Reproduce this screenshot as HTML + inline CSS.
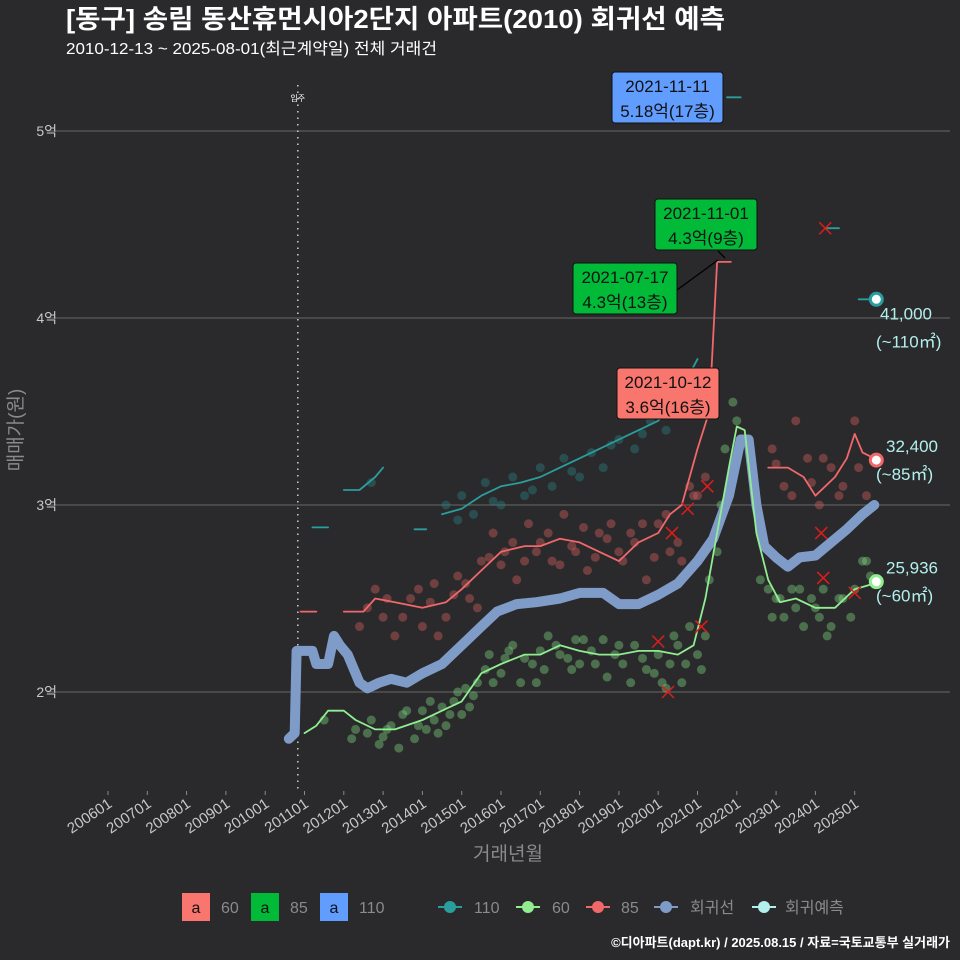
<!DOCTYPE html>
<html><head><meta charset="utf-8">
<style>
body{margin:0;background:#2a2a2c;}
svg{display:block;font-family:"Liberation Sans","Noto Sans CJK KR",sans-serif;}
</style></head>
<body>
<svg id="chart" width="960" height="960" viewBox="0 0 960 960">
<rect width="960" height="960" fill="#2a2a2c"/>
<text x="66" y="28" font-size="26" font-weight="bold" fill="#ffffff" textLength="659" lengthAdjust="spacingAndGlyphs">[동구] 송림 동산휴먼시아2단지 아파트(2010) 회귀선 예측</text>
<text x="66" y="54" font-size="16" fill="#ffffff" textLength="371" lengthAdjust="spacingAndGlyphs">2010-12-13 ~ 2025-08-01(최근계약일) 전체 거래건</text>
<g id="grid"></g><g id="marks"></g><g id="overlay"></g>
<text x="508" y="860" font-size="19" fill="#8a8a8a" text-anchor="middle">거래년월</text>
<text transform="translate(22,430) rotate(-90)" font-size="19" fill="#8a8a8a" text-anchor="middle">매매가(원)</text>
<g font-size="16">
 <rect x="182" y="893" width="28" height="28" fill="#f8766d"/><text x="196" y="913" text-anchor="middle" fill="#111">a</text><text x="221" y="913" fill="#8a8a8a">60</text>
 <rect x="251" y="893" width="28" height="28" fill="#00ba38"/><text x="265" y="913" text-anchor="middle" fill="#111">a</text><text x="290" y="913" fill="#8a8a8a">85</text>
 <rect x="320" y="893" width="28" height="28" fill="#619cff"/><text x="334" y="913" text-anchor="middle" fill="#111">a</text><text x="359" y="913" fill="#8a8a8a">110</text>
 <g><line x1="438" y1="907" x2="462" y2="907" stroke="#2a9d9d" stroke-width="2"/><circle cx="450" cy="907" r="6" fill="#2a9d9d"/><text x="474" y="913" fill="#8a8a8a">110</text></g>
 <g><line x1="516" y1="907" x2="540" y2="907" stroke="#90ee90" stroke-width="2"/><circle cx="528" cy="907" r="6" fill="#90ee90"/><text x="552" y="913" fill="#8a8a8a">60</text></g>
 <g><line x1="586" y1="907" x2="610" y2="907" stroke="#f0686a" stroke-width="2"/><circle cx="598" cy="907" r="6" fill="#f0686a"/><text x="621" y="913" fill="#8a8a8a">85</text></g>
 <g><line x1="654" y1="907" x2="678" y2="907" stroke="#7f9cc8" stroke-width="2"/><circle cx="666" cy="907" r="6" fill="#7f9cc8"/><text x="690" y="913" fill="#8a8a8a">회귀선</text></g>
 <g><line x1="752" y1="907" x2="776" y2="907" stroke="#b2f0ee" stroke-width="2"/><circle cx="764" cy="907" r="6" fill="#b2f0ee"/><text x="785" y="913" fill="#8a8a8a">회귀예측</text></g>
</g>
<text x="950" y="947" font-size="13" font-weight="bold" fill="#ffffff" text-anchor="end">©디아파트(dapt.kr) / 2025.08.15 / 자료=국토교통부 실거래가</text>
</svg>
<script>
const yTicks=[2,3,4,5];
const yTickLabels=['2억','3억','4억','5억'];
const xTickYears=[2006,2007,2008,2009,2010,2011,2012,2013,2014,2015,2016,2017,2018,2019,2020,2021,2022,2023,2024,2025];
const xTickLabels=['200601','200701','200801','200901','201001','201101','201201','201301','201401','201501','201601','201701','201801','201901','202001','202101','202201','202301','202401','202501'];
const regT=[2010.6,2010.75,2010.8,2011.2,2011.3,2011.6,2011.75,2011.9,2012.1,2012.4,2012.6,2012.9,2013.2,2013.6,2014.0,2014.5,2015.0,2015.5,2015.9,2016.4,2016.9,2017.5,2018.0,2018.6,2019.0,2019.5,2020.0,2020.5,2021.0,2021.4,2021.8,2022.1,2022.3,2022.5,2022.7,2023.0,2023.3,2023.6,2024.0,2024.4,2024.8,2025.2,2025.5];
const regV=[1.75,1.78,2.22,2.22,2.15,2.15,2.3,2.25,2.2,2.05,2.02,2.05,2.07,2.05,2.1,2.15,2.25,2.35,2.43,2.47,2.48,2.5,2.53,2.53,2.47,2.47,2.52,2.58,2.7,2.82,3.05,3.35,3.35,3.0,2.78,2.72,2.67,2.72,2.73,2.8,2.87,2.95,3.0];
const s60T=[2011.0,2011.3,2011.6,2012.0,2012.3,2012.8,2013.3,2014.0,2014.5,2015.0,2015.5,2016.0,2016.6,2017.0,2017.5,2018.0,2018.5,2019.0,2019.5,2020.0,2020.5,2020.9,2021.2,2021.5,2021.8,2022.0,2022.2,2022.5,2022.8,2023.1,2023.5,2024.0,2024.5,2025.0,2025.5];
const s60V=[1.78,1.82,1.9,1.9,1.85,1.8,1.8,1.85,1.9,1.95,2.1,2.15,2.2,2.2,2.25,2.22,2.2,2.2,2.22,2.22,2.2,2.25,2.5,2.85,3.2,3.42,3.4,2.85,2.6,2.48,2.5,2.45,2.45,2.55,2.58];
const s85aT=[2010.9,2011.3];const s85aV=[2.43,2.43];
const s85bT=[2012.0,2012.5,2012.8,2013.3,2014.0,2014.6,2015.0,2015.5,2016.0,2016.6,2017.0,2017.5,2018.0,2018.5,2019.0,2019.5,2020.0,2020.3,2020.6,2021.0,2021.3,2021.5,2021.85];
const s85bV=[2.43,2.43,2.5,2.48,2.45,2.48,2.55,2.65,2.75,2.78,2.78,2.82,2.8,2.75,2.7,2.8,2.85,2.95,3.0,3.3,3.5,4.3,4.3];
const s85cT=[2022.8,2023.3,2023.7,2024.0,2024.5,2024.8,2025.0,2025.2,2025.5];
const s85cV=[3.2,3.2,3.15,3.05,3.15,3.25,3.38,3.28,3.25];
const s110Segs=[[[2011.2,2.88],[2011.6,2.88]],[[2012.0,3.08],[2012.4,3.08],[2012.8,3.15],[2013.0,3.2]],[[2013.8,2.87],[2014.1,2.87]],[[2014.5,2.95],[2015.0,2.98],[2015.5,3.05],[2016.0,3.1],[2016.5,3.12],[2017.0,3.15],[2017.5,3.2],[2018.0,3.25],[2018.5,3.3],[2019.0,3.35],[2019.5,3.4],[2020.0,3.45],[2020.5,3.6],[2020.8,3.7],[2021.0,3.78]],[[2021.75,5.18],[2022.1,5.18]],[[2024.3,4.48],[2024.6,4.48]],[[2025.1,4.1],[2025.5,4.1]]];
const pts60T=[2011.5,2012.2,2012.6,2012.9,2013.1,2013.4,2013.6,2013.9,2014.2,2014.4,2014.7,2014.9,2015.2,2015.4,2015.7,2016.0,2016.3,2016.6,2016.9,2017.2,2017.5,2017.8,2018.1,2018.4,2018.7,2019.0,2019.3,2019.6,2019.9,2020.2,2020.4,2020.7,2021.0,2021.3,2021.6,2021.9,2022.0,2022.6,2022.9,2023.1,2023.4,2023.7,2024.0,2024.3,2024.6,2024.9,2025.2,2025.4];
const pts60V=[1.85,1.75,1.78,1.72,1.8,1.7,1.9,1.82,1.95,1.78,1.88,2.0,1.92,2.05,2.2,2.1,2.25,2.18,2.05,2.3,2.2,2.12,2.28,2.15,2.08,2.25,2.05,2.18,2.1,2.02,2.3,2.15,2.2,2.6,3.0,3.55,3.45,2.6,2.4,2.5,2.55,2.35,2.45,2.3,2.5,2.4,2.7,2.62];
const pts60bT=[2012.3,2012.7,2013.0,2013.2,2013.5,2013.8,2014.0,2014.1,2014.3,2014.5,2014.6,2014.8,2015.0,2015.1,2015.3,2015.6,2015.8,2016.1,2016.2,2016.5,2016.8,2017.0,2017.1,2017.4,2017.7,2017.9,2018.0,2018.3,2018.6,2018.9,2019.1,2019.4,2019.7,2020.0,2020.1,2020.3,2020.5,2020.6,2020.8,2021.1,2021.2,2021.5,2021.7,2022.8,2023.0,2023.2,2023.5,2023.6,2023.9,2024.1,2024.2,2024.4,2024.7,2025.0,2025.3];
const pts60bV=[1.8,1.85,1.76,1.82,1.88,1.75,1.9,1.8,1.85,1.92,1.82,1.95,1.88,2.02,1.98,2.12,2.05,2.18,2.22,2.05,2.15,2.22,2.12,2.25,2.18,2.28,2.15,2.22,2.28,2.2,2.15,2.25,2.12,2.2,2.05,2.15,2.25,2.05,2.35,2.12,2.3,2.75,3.3,2.55,2.5,2.4,2.45,2.55,2.5,2.4,2.55,2.35,2.5,2.55,2.7];
const pts85T=[2012.4,2012.8,2013.0,2013.3,2013.7,2014.0,2014.3,2014.6,2014.9,2015.2,2015.5,2015.8,2016.1,2016.4,2016.7,2017.0,2017.3,2017.6,2017.9,2018.2,2018.5,2018.8,2019.1,2019.4,2019.7,2020.0,2020.3,2020.6,2020.9,2021.2,2022.9,2023.2,2023.5,2023.8,2024.1,2024.4,2024.7,2025.0,2025.3];
const pts85V=[2.35,2.55,2.4,2.3,2.5,2.35,2.58,2.4,2.62,2.5,2.7,2.85,2.75,2.6,2.9,2.8,2.7,2.95,2.75,2.65,2.85,2.9,2.7,2.8,2.6,2.9,2.75,2.7,3.05,3.15,3.3,3.1,3.45,3.25,3.0,3.2,3.1,3.45,3.05];
const pts85bT=[2012.6,2013.1,2013.5,2013.9,2014.2,2014.4,2014.8,2015.1,2015.4,2015.7,2016.0,2016.3,2016.6,2016.9,2017.2,2017.5,2017.8,2018.1,2018.4,2018.7,2019.0,2019.3,2019.6,2019.9,2020.2,2020.5,2020.8,2021.0,2023.0,2023.4,2023.9,2024.2,2024.6,2025.1];
const pts85bV=[2.45,2.5,2.4,2.55,2.48,2.3,2.52,2.58,2.45,2.72,2.68,2.8,2.7,2.75,2.85,2.68,2.78,2.88,2.72,2.82,2.75,2.85,2.9,2.72,2.95,2.8,3.1,3.05,3.22,3.05,3.12,3.25,3.05,3.2];
const pts110T=[2014.6,2015.0,2015.3,2015.6,2016.0,2016.3,2016.6,2017.0,2017.3,2017.6,2018.0,2018.3,2018.6,2019.0,2019.4,2019.8,2020.2,2020.6,2015.8,2016.8,2017.8,2018.8,2019.6,2012.7,2014.9];
const pts110V=[3.0,3.05,2.95,3.12,3.0,3.15,3.05,3.2,3.1,3.25,3.15,3.28,3.2,3.35,3.3,3.45,3.4,3.55,3.02,3.08,3.18,3.32,3.38,3.12,2.92];
const xMarkT=[2020.0,2020.25,2020.35,2020.75,2021.1,2021.25,2024.15,2024.2,2024.25,2025.0];
const xMarkV=[2.27,2.0,2.85,2.98,2.35,3.1,2.85,2.61,4.48,2.53];

const X=y=>108+(y-2006)*39.3;
const Y=v=>692-(v-2)*187;
const NS='http://www.w3.org/2000/svg';
function mk(parent,tag,attrs){const e=document.createElementNS(NS,tag);for(const k in attrs)e.setAttribute(k,attrs[k]);parent.appendChild(e);return e;}
const grid=document.getElementById('grid'),marks=document.getElementById('marks'),ov=document.getElementById('overlay');
yTicks.forEach((t,i)=>{
 const l=mk(grid,'line',{x1:47,x2:950,y1:Y(t),y2:Y(t),stroke:'#5c5c5c','stroke-width':1.2});
 
 
 const tx=mk(grid,'text',{x:57,y:Y(t)+5,'font-size':14,fill:'#c8c8c8','text-anchor':'end'});
 tx.textContent=yTickLabels[i];
 
 
});
xTickYears.forEach((yr,i)=>{
 const x=X(yr);
 const tk=mk(grid,'line',{x1:x,x2:x,y1:791,y2:795,stroke:'#8a8a8a'});
 
 
 const tx=mk(grid,'text',{x:x+5,y:806,'font-size':15,fill:'#c8c8c8','text-anchor':'end',transform:`rotate(-34 ${x+5} 806)`});
 tx.textContent=xTickLabels[i];
 
 
});
const vx=X(2010.83);
const vl=mk(grid,'line',{x1:vx,x2:vx,y1:85,y2:790,stroke:'#cfcfcf','stroke-width':1.5,'stroke-dasharray':'1.5 5'});


const vt=mk(grid,'text',{x:vx,y:101,'font-size':8,fill:'#fff','text-anchor':'middle'});vt.textContent='입주';



function dots(T,V,col,name){T.forEach((t,i)=>{const c=mk(marks,'circle',{cx:X(t),cy:Y(V[i]),r:4.5,fill:col,'fill-opacity':0.4});
 
 });}
dots(pts110T,pts110V,'#2a8585','point-110');
dots(pts85T,pts85V,'#d9605f','point-85');
dots(pts85bT,pts85bV,'#d9605f','point-85');
dots(pts60T,pts60V,'#7fd67f','point-60');
dots(pts60bT,pts60bV,'#7fd67f','point-60');
function path(T,V,col,w,name){const d=T.map((t,i)=>(i?'L':'M')+X(t).toFixed(1)+' '+Y(V[i]).toFixed(1)).join('');
 const p=mk(marks,'path',{d:d,fill:'none',stroke:col,'stroke-width':w,'stroke-linejoin':'round','stroke-linecap':'round'});
 
 }
s110Segs.forEach(s=>path(s.map(p=>p[0]),s.map(p=>p[1]),'#2a9d9d',1.8,'line-110'));
path(s85aT,s85aV,'#f0686a',1.8,'line-85');
path(s85bT,s85bV,'#f0686a',1.8,'line-85');
path(s85cT,s85cV,'#f0686a',1.8,'line-85');
path(regT,regV,'#7f9cc8',10,'regression-line');
path(s60T,s60V,'#90ee90',1.8,'line-60');
xMarkT.forEach((t,i)=>{const x=X(t),y=Y(xMarkV[i]);
 const p=mk(marks,'path',{d:`M${x-6} ${y-6}L${x+6} ${y+6}M${x+6} ${y-6}L${x-6} ${y+6}`,stroke:'#e01b1b','stroke-width':1.5});
 
 });
const endT=[2025.55,2025.55,2025.55],endV=[4.1,3.24,2.59],endC=['#2a9d9d','#f0686a','#90ee90'];
const endL1=['41,000','32,400','25,936'],endL2=['(~110㎡)','(~85㎡)','(~60㎡)'];
endV.forEach((v,i)=>{const x=X(endT[i]),y=Y(v);
 const c=mk(ov,'circle',{cx:x,cy:y,r:6,fill:'#fff',stroke:endC[i],'stroke-width':3});
 
 
 const dy=i===0?20:-8;
 const t1=mk(ov,'text',{x:i===0?880:886,y:y+dy,'font-size':17,fill:'#b2f0ee'});t1.textContent=endL1[i];
 
 
 const t2=mk(ov,'text',{x:876,y:y+dy+28,'font-size':17,fill:'#b2f0ee'});t2.textContent=endL2[i];
 
 
});
const ann=[[612,72,111,'#619cff','2021-11-11','5.18억(17층)','annotation-110-max'],[655,199,102,'#00ba38','2021-11-01','4.3억(9층)','annotation-85-max-a'],[573,263,104,'#00ba38','2021-07-17','4.3억(13층)','annotation-85-max-b'],[617,368,102,'#f8766d','2021-10-12','3.6억(16층)','annotation-60-max']];
mk(ov,'path',{d:'M677 290L718 260M718 251L725 258',stroke:'#000','stroke-width':1.3});
ann.forEach(a=>{const g=mk(ov,'g',{});
 
 
 mk(g,'rect',{x:a[0],y:a[1],width:a[2],height:51,rx:3,fill:a[3],stroke:'#111','stroke-width':1});
 const t1=mk(g,'text',{x:a[0]+a[2]/2,y:a[1]+20,'font-size':17,fill:'#111','text-anchor':'middle'});t1.textContent=a[4];
 const t2=mk(g,'text',{x:a[0]+a[2]/2,y:a[1]+45,'font-size':17,fill:'#111','text-anchor':'middle'});t2.textContent=a[5];
});
</script>
</body></html>
